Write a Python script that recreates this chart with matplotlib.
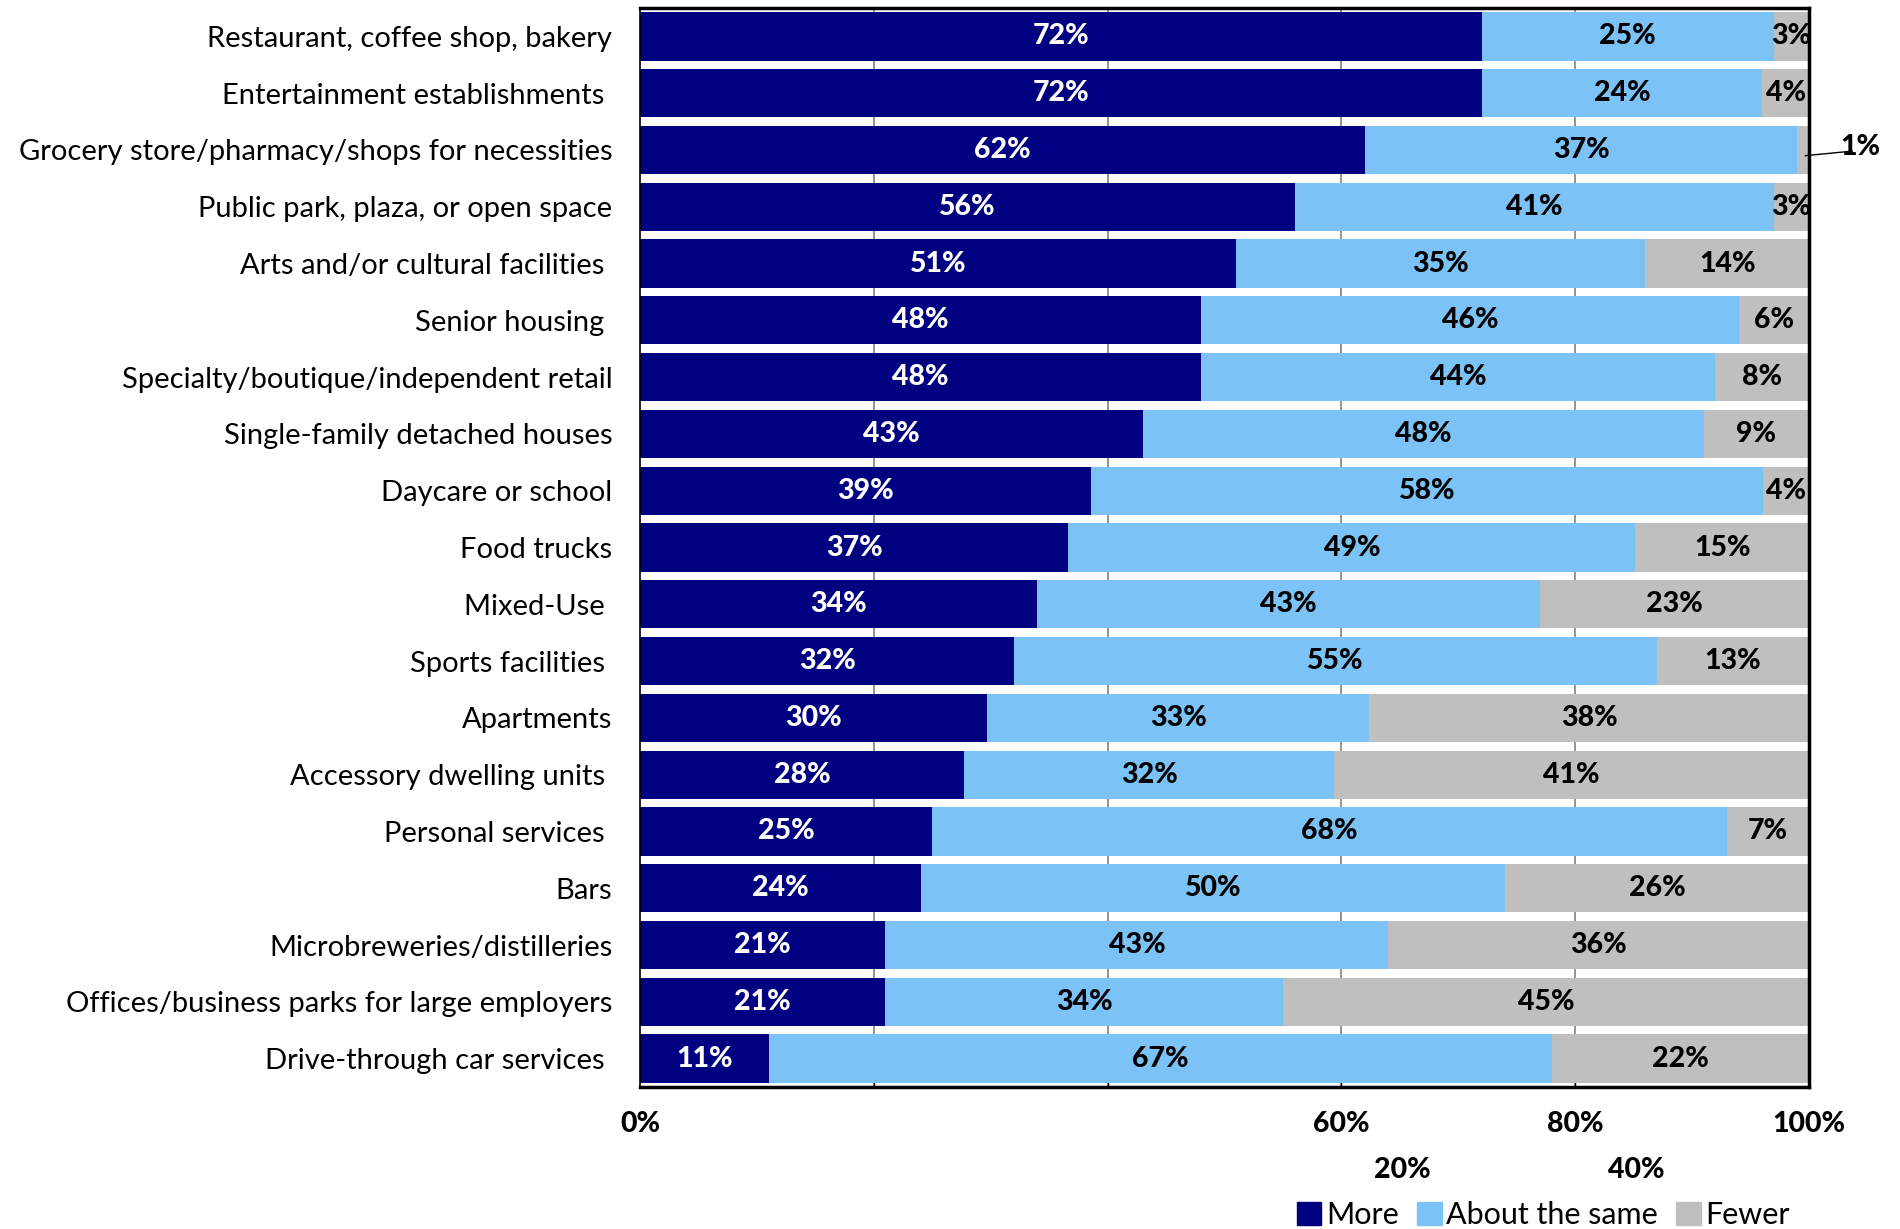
import numpy as np
import matplotlib.pyplot as plt
from matplotlib.patches import Patch
import matplotlib.transforms as mtransforms

plt.rcParams['font.family'] = ['Lato', 'DejaVu Sans']

categories = ["Restaurant, coffee shop, bakery", "Entertainment establishments ",
              "Grocery store/pharmacy/shops for necessities", "Public park, plaza, or open space",
              "Arts and/or cultural facilities ", "Senior housing ",
              "Specialty/boutique/independent retail", "Single-family detached houses",
              "Daycare or school", "Food trucks", "Mixed-Use ", "Sports facilities ",
              "Apartments", "Accessory dwelling units ", "Personal services ", "Bars",
              "Microbreweries/distilleries", "Offices/business parks for large employers",
              "Drive-through car services "]
more = [72, 72, 62, 56, 51, 48, 48, 43, 39, 37, 34, 32, 30, 28, 25, 24, 21, 21, 11]
same = [25, 24, 37, 41, 35, 46, 44, 48, 58, 49, 43, 55, 33, 32, 68, 50, 43, 34, 67]
fewer = [3, 4, 1, 3, 14, 6, 8, 9, 4, 15, 23, 13, 38, 41, 7, 26, 36, 45, 22]
series_names = ["More", "About the same", "Fewer"]
colors = ["#000080", "#7BC2F7", "#BFBFBF"]

vals = np.array([more, same, fewer], dtype=float)
shares = vals / vals.sum(axis=0) * 100  # bars fill 100%
y = np.arange(len(categories))

fig = plt.figure(figsize=(19, 12.29), dpi=100)
ax = fig.add_axes([640 / 1900, 1 - 1087 / 1229, (1809 - 640) / 1900, (1087 - 8) / 1229])

left = np.zeros(len(categories))
for i in range(3):
    ax.barh(y, shares[i], left=left, height=0.85, color=colors[i], zorder=2)
    for j in range(len(categories)):
        if i == 2 and vals[i, j] < 2:
            continue
        ax.text(left[j] + shares[i, j] / 2, y[j], f"{int(vals[i, j])}%",
                ha="center", va="center", fontsize=20.5, fontweight="black",
                color="white" if i == 0 else "black", zorder=3)
    left += shares[i]

# small value labelled outside with a leader line
j = 2
ax.plot([99.7, 103.7], [y[j] + 0.1, y[j] + 0.02], color="black", lw=1, clip_on=False, zorder=4)
ax.text(104.4, y[j] - 0.05, f"{int(fewer[j])}%", ha="center", va="center",
        fontsize=20.5, fontweight="black", clip_on=False)

ax.set_ylim(len(categories) - 0.5, -0.5)
ax.set_xlim(0, 100)
ax.set_yticks(y)
ax.set_yticklabels(categories, fontsize=21)
ax.tick_params(axis="y", length=0, pad=20)

ax.set_xticks([20, 40, 60, 80])
ax.set_xticklabels([])
ax.tick_params(axis="x", direction="in", length=6, width=1, color="black")
ax.xaxis.grid(True, color="#808080", lw=1.2, zorder=0)
ax.set_axisbelow(True)
for s in ax.spines.values():
    s.set_linewidth(2.5)
    s.set_color("black")
ax.spines["left"].set_linewidth(1.2)

trans = mtransforms.blended_transform_factory(ax.transData, fig.transFigure)
for xv, lab in [(0, "0%"), (60, "60%"), (80, "80%"), (100, "100%")]:
    ax.text(xv, 1 - 1124 / 1229, lab, transform=trans, ha="center", va="center",
            fontsize=20.5, fontweight="black")
for xv, lab in [(65.2, "20%"), (85.2, "40%")]:
    ax.text(xv, 1 - 1170 / 1229, lab, transform=trans, ha="center", va="center",
            fontsize=20.5, fontweight="black")

handles = [Patch(color=c) for c in colors]
fig.legend(handles, series_names, loc="center right", bbox_to_anchor=(1802 / 1900, 1 - 1215 / 1229),
           ncol=3, frameon=False, fontsize=22, handlelength=0.8, handleheight=0.8,
           handletextpad=0.15, columnspacing=0.6, borderaxespad=0)

fig.savefig("out.png", dpi=100)
